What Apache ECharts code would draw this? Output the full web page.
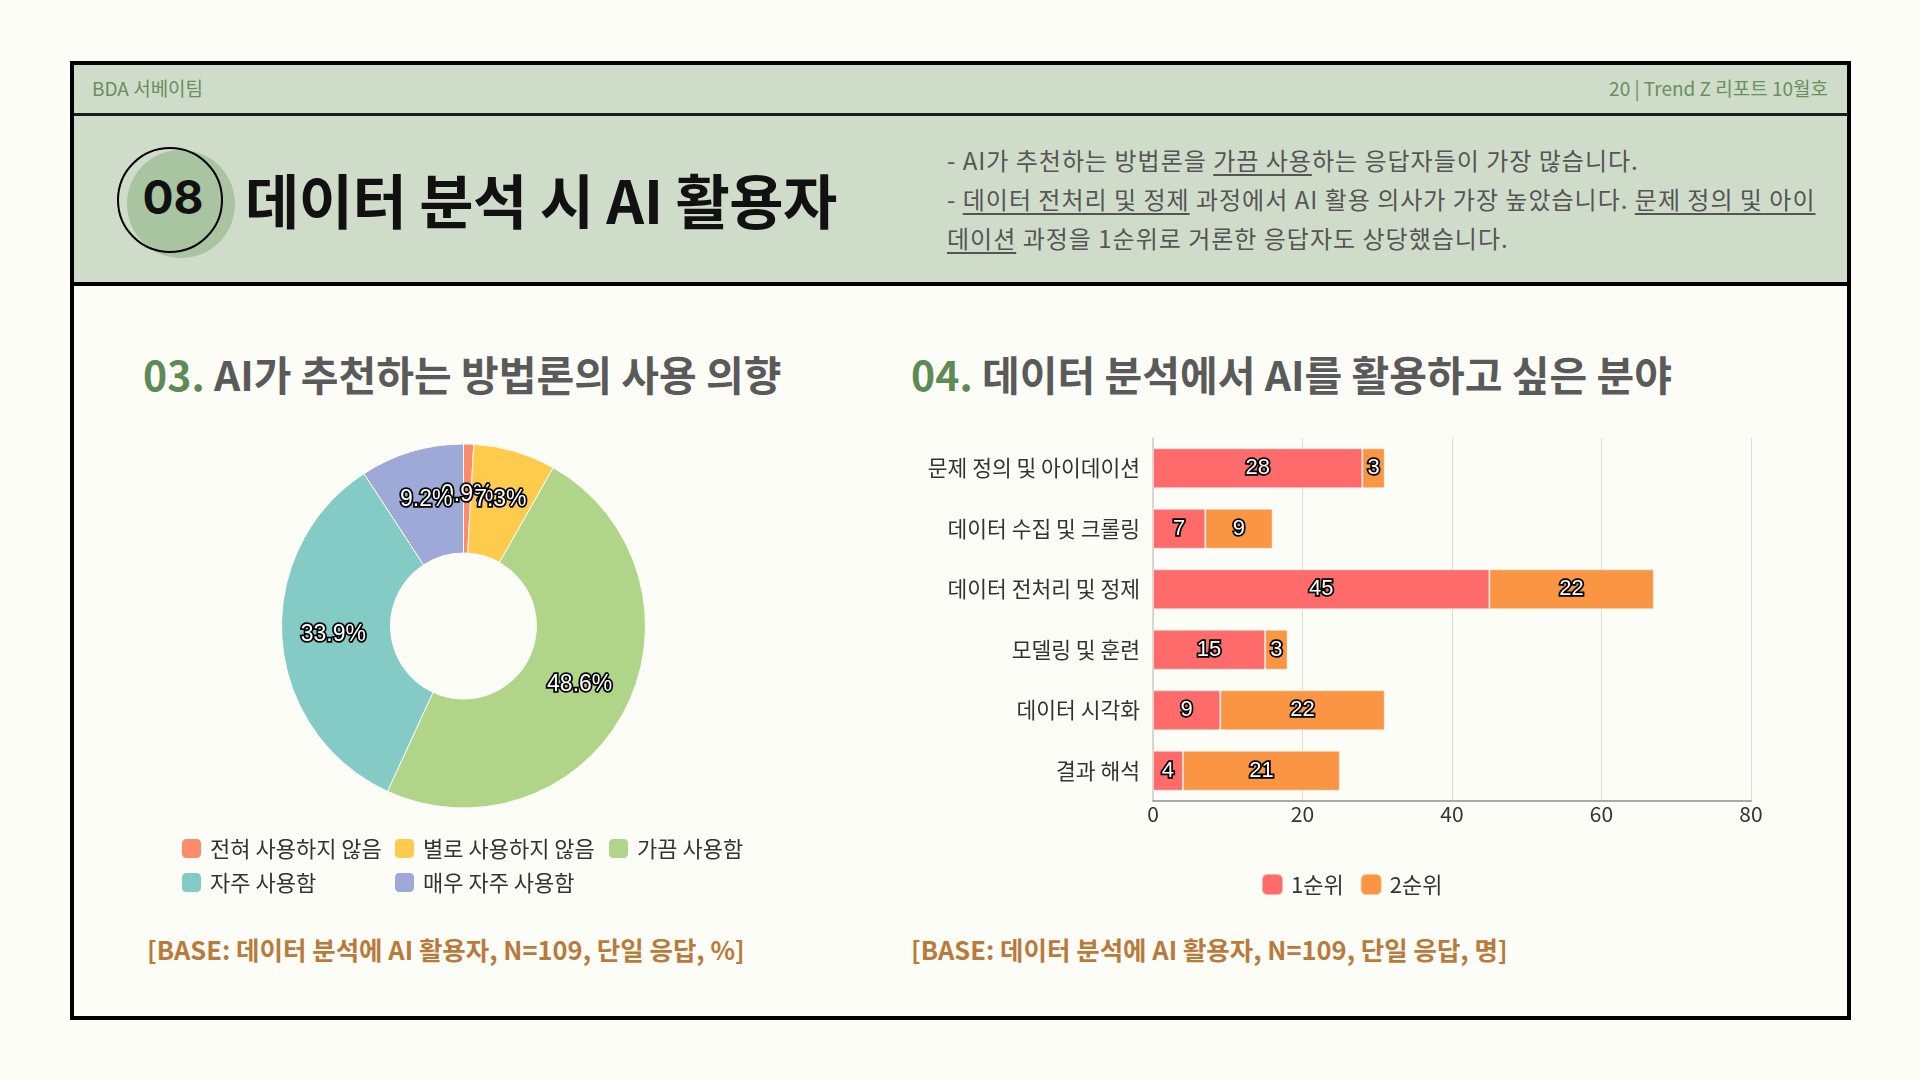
<!DOCTYPE html>
<html>
<head>
<meta charset="utf-8">
<script src="https://cdn.jsdelivr.net/npm/echarts@6/dist/echarts.min.js"></script>
<style>
  html, body { margin:0; padding:0; }
  body { width:1920px; height:1080px; background:#FDFDF7; position:relative; overflow:hidden;
         font-family:"Noto Sans CJK KR","Noto Sans",sans-serif; }
  .abs { position:absolute; }
  #frame { left:70px; top:61px; width:1781px; height:959px; box-sizing:border-box; border:4px solid #000; }
  #band1 { left:74px; top:65px; width:1773px; height:48px; background:#D0DCCA; border-bottom:3px solid #1c1c1c; }
  #band2 { left:74px; top:116px; width:1773px; height:166px; background:#D0DCCA; border-bottom:4px solid #000; }
  .hdr { font-size:19px; color:#67905D; line-height:24px; top:76px; white-space:nowrap; }
  #circShadow { left:127px; top:150px; width:108px; height:108px; border-radius:50%; background:#A8C4A0; }
  #circLine { left:117px; top:147px; width:106px; height:106px; border-radius:50%; box-sizing:border-box; border:2.5px solid #000; }
  #num { left:123px; top:170px; width:100px; text-align:center; font-family:Inter,"Noto Sans",sans-serif; font-weight:700; font-size:46px; line-height:54px; color:#111; }
  #title { left:245px; top:163px; font-size:59px; font-weight:700; line-height:72px; color:#111; white-space:nowrap; letter-spacing:-0.5px; }
  #desc { left:947px; top:140px; font-size:24px; line-height:39px; color:#555; white-space:nowrap; letter-spacing:1px; }
  #desc u { text-decoration-thickness:1.5px; text-underline-offset:4px; }
  .sec { top:349px; font-size:41px; font-weight:700; line-height:48px; color:#5A5A5A; white-space:nowrap; }
  .sec b { color:#5E8A55; font-weight:700; }
  .base { top:934px; font-size:25.5px; font-weight:600; line-height:30px; color:#B97A3B; white-space:nowrap; }
  #chart { left:0; top:0; width:1920px; height:1080px; }
</style>
</head>
<body>
<div id="frame" class="abs"></div>
<div id="band1" class="abs"></div>
<div id="band2" class="abs"></div>
<div class="abs hdr" style="left:92px;">BDA 서베이팀</div>
<div class="abs hdr" style="right:92px;">20 | Trend Z 리포트 10월호</div>
<div id="circShadow" class="abs"></div>
<div id="circLine" class="abs"></div>
<div id="num" class="abs">08</div>
<div id="title" class="abs">데이터 분석 시 AI 활용자</div>
<div id="desc" class="abs">- AI가 추천하는 방법론을 <u>가끔 사용</u>하는 응답자들이 가장 많습니다.<br>- <u>데이터 전처리 및 정제</u> 과정에서 AI 활용 의사가 가장 높았습니다. <u>문제 정의 및 아이</u><br><u>데이션</u> 과정을 1순위로 거론한 응답자도 상당했습니다.</div>
<div class="abs sec" style="left:143px;"><b>03.</b> AI가 추천하는 방법론의 사용 의향</div>
<div class="abs sec" style="left:911px;"><b>04.</b> 데이터 분석에서 AI를 활용하고 싶은 분야</div>
<div class="abs base" style="left:147px;">[BASE: 데이터 분석에 AI 활용자, N=109, 단일 응답, %]</div>
<div class="abs base" style="left:911px;">[BASE: 데이터 분석에 AI 활용자, N=109, 단일 응답, 명]</div>
<div id="chart" class="abs"></div>
<script>
// ---- data ----
const pieNames = ['전혀 사용하지 않음', '별로 사용하지 않음', '가끔 사용함', '자주 사용함', '매우 자주 사용함'];
const pieValues = [0.9, 7.3, 48.6, 33.9, 9.2];
const pieColors = ['#FF8B6B', '#FFCB4C', '#B0D588', '#83CBC4', '#9EA9D7'];

const barCategories = ['문제 정의 및 아이데이션', '데이터 수집 및 크롤링', '데이터 전처리 및 정제', '모델링 및 훈련', '데이터 시각화', '결과 해석'];
const rank1 = [28, 7, 45, 15, 9, 4];
const rank2 = [3, 9, 22, 3, 22, 21];
const seriesNames = ['1순위', '2순위'];
const barColors = ['#FF6B6B', '#F99543'];
const xMin = 0, xMax = 80, xStep = 20;

const KR = '"Noto Sans CJK KR", "Noto Sans", sans-serif';
const numLabel = {
  color: '#fff', fontSize: 23, fontFamily: '"Liberation Sans", Arial, sans-serif',
  textBorderColor: '#000', textBorderWidth: 3.5
};

const legendCommon = {
  icon: 'roundRect', itemWidth: 21, itemHeight: 21, orient: 'vertical', itemGap: 11, padding: 0,
  textStyle: { fontSize: 22, color: '#333', fontFamily: KR, padding: [0, 0, 0, 3] },
  selectedMode: false
};

const chart = echarts.init(document.getElementById('chart'), null, { renderer: 'canvas' });
chart.setOption({
  backgroundColor: 'transparent',
  animation: false,
  legend: [
    Object.assign({}, legendCommon, { left: 180, top: 837, data: [pieNames[0], pieNames[3]] }),
    Object.assign({}, legendCommon, { left: 393, top: 837, data: [pieNames[1], pieNames[4]] }),
    Object.assign({}, legendCommon, { left: 607, top: 837, data: [pieNames[2]] }),
    Object.assign({}, legendCommon, { left: 1261, top: 873, orient: 'horizontal', itemGap: 16, data: seriesNames })
  ],
  grid: { left: 1153, right: 169, top: 438, bottom: 279, containLabel: false },
  xAxis: {
    type: 'value', min: xMin, max: xMax, interval: xStep,
    axisLine: { show: true, lineStyle: { color: '#AAAAAA', width: 2 } },
    axisTick: { show: false },
    axisLabel: { fontSize: 21, color: '#333', margin: 3, fontFamily: KR },
    splitLine: { show: true, lineStyle: { color: '#DDDDDD', width: 1 } }
  },
  yAxis: {
    type: 'category', inverse: true, data: barCategories,
    axisLine: { show: true, lineStyle: { color: '#CCCCCC', width: 1.5 } },
    axisTick: { show: false },
    axisLabel: { fontSize: 21.5, color: '#333', margin: 13, fontFamily: KR }
  },
  series: [
    {
      type: 'pie', name: 'pie',
      center: [463.5, 626], radius: [73, 182],
      startAngle: 90, clockwise: true,
      avoidLabelOverlap: false,
      labelLayout: { hideOverlap: false },
      itemStyle: { borderColor: '#FDFDF7', borderWidth: 1 },
      label: Object.assign({ show: true, position: 'inside', formatter: '{c}%', offset: [0, -1] }, numLabel),
      labelLine: { show: false },
      emphasis: { disabled: true },
      data: pieNames.map((n, i) => ({ name: n, value: pieValues[i], itemStyle: { color: pieColors[i] } }))
    },
    {
      type: 'bar', name: seriesNames[0], stack: 'total', barWidth: '66%',
      itemStyle: { color: barColors[0], borderColor: 'rgba(255,255,255,0.45)', borderWidth: 1 },
      label: Object.assign({ show: true, position: 'inside' }, numLabel, { fontSize: 22 }),
      labelLayout: { hideOverlap: false },
      data: rank1
    },
    {
      type: 'bar', name: seriesNames[1], stack: 'total', barWidth: '66%',
      itemStyle: { color: barColors[1], borderColor: 'rgba(255,255,255,0.45)', borderWidth: 1 },
      label: Object.assign({ show: true, position: 'inside' }, numLabel, { fontSize: 22 }),
      labelLayout: { hideOverlap: false },
      data: rank2
    }
  ]
});
</script>
</body>
</html>
